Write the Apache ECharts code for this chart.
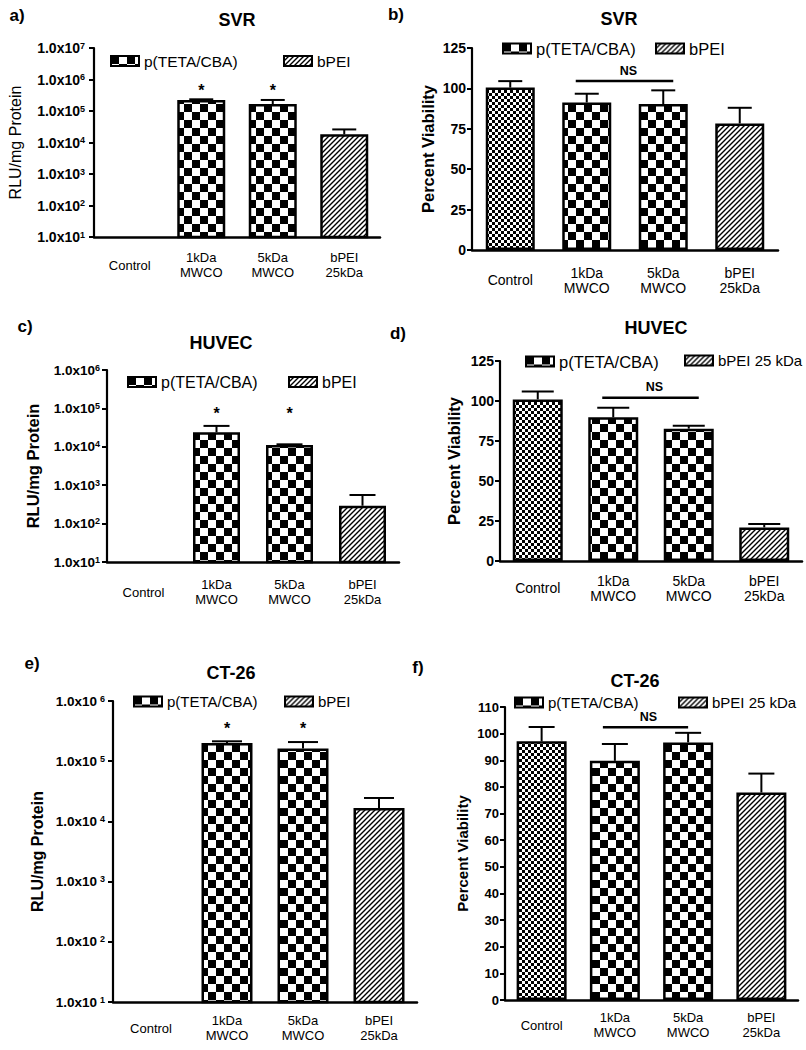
<!DOCTYPE html>
<html><head><meta charset="utf-8">
<script src="https://cdn.jsdelivr.net/npm/echarts@6/dist/echarts.min.js"></script>
<style>html,body{margin:0;padding:0;background:#fff}#c{width:806px;height:1050px}</style>
</head><body><div id="c"></div>
<script>
// ---------------- DATA ----------------
const categories = ['Control', '1kDa\nMWCO', '5kDa\nMWCO', 'bPEI\n25kDa'];
const seriesPoly = 'p(TETA/CBA)';
const seriesPEI = 'bPEI';
const seriesPEI25 = 'bPEI 25 kDa';
const seriesControl = 'Control';

// a) SVR transfection, RLU/mg protein (Control below axis)
const svrRluMean  = [null, 2.24e5, 1.67e5, 1.82e4];
const svrRluUpper = [null, 2.35e5, 2.24e5, 2.6e4];
const svrRluStarCats = [1, 2];
const svrRluStarLevel = 4.6e5;
// b) SVR viability, %
const svrViabMean  = [100.5, 91.3, 90.3, 78.3];
const svrViabUpper = [104.5, 96.7, 98.8, 88.0];
const svrViabNS = [1, 2, 104.6];
// c) HUVEC transfection
const huvecRluMean  = [null, 2.39e4, 1.11e4, 292];
const huvecRluUpper = [null, 3.5e4, 1.16e4, 556];
const huvecRluStarCats = [1, 2];
const huvecRluStarLevel = 7.4e4;
// d) HUVEC viability
const huvecViabMean  = [101.0, 89.8, 82.7, 21.0];
const huvecViabUpper = [106.0, 95.8, 84.6, 23.1];
const huvecViabNS = [1, 2, 102.0];
// e) CT-26 transfection
const ct26RluMean  = [null, 2.0e5, 1.62e5, 1.67e4];
const ct26RluUpper = [null, 2.14e5, 2.08e5, 2.45e4];
const ct26RluStarCats = [1, 2];
const ct26RluStarLevel = 3.5e5;
// f) CT-26 viability
const ct26ViabMean  = [97.1, 89.8, 96.7, 77.9];
const ct26ViabUpper = [102.5, 96.1, 100.3, 85.0];
const ct26ViabNS = [1, 2, 102.4];

// tick settings
const logMinA = 10, logMaxA = 1e7;
const logMinC = 10, logMaxC = 1e6;
const logMinE = 10, logMaxE = 1e6;
const viabTicksBD = {min: 0, max: 125, interval: 25};
const viabTicksF = {min: 0, max: 110, interval: 10};

// ---------------- STYLE / LAYOUT ----------------
const FONT = '"Liberation Sans", Arial, Helvetica, sans-serif';

function mkCanvas(w, h) { const c = document.createElement('canvas'); c.width = w; c.height = h; return c; }
function checker(cell) {
  const c = mkCanvas(cell * 2, cell * 2); const g = c.getContext('2d');
  g.fillStyle = '#fff'; g.fillRect(0, 0, cell * 2, cell * 2);
  g.fillStyle = '#000'; g.fillRect(0, 0, cell, cell); g.fillRect(cell, cell, cell, cell);
  return {image: c, repeat: 'repeat', imageWidth: cell * 2, imageHeight: cell * 2};
}
function hatch(sp) {
  const c = mkCanvas(sp, sp); const g = c.getContext('2d');
  g.fillStyle = '#fff'; g.fillRect(0, 0, sp, sp);
  g.strokeStyle = '#000'; g.lineWidth = 1.4;
  g.beginPath();
  g.moveTo(-1, sp + 1); g.lineTo(sp + 1, -1);
  g.moveTo(-1, 1); g.lineTo(1, -1);
  g.moveTo(sp - 1, sp + 1); g.lineTo(sp + 1, sp - 1);
  g.stroke();
  return {image: c, repeat: 'repeat', imageWidth: sp, imageHeight: sp};
}
const fillCoarse = checker(8);
const fillFine = checker(3);
const fillHatch = hatch(5);

const panels = [
  {label: 'a)', lx: 17, ly: 15, title: 'SVR', tx: 237, ty: 20,
   grid: {left: 94, top: 48, width: 286, height: 189},
   log: true, min: logMinA, max: logMaxA,
   mean: svrRluMean, upper: svrRluUpper, starCats: svrRluStarCats, starLevel: svrRluStarLevel,
   yName: 'RLU/mg Protein', yBold: false, nameGap: 71, nameSize: 16, tickSize: 14, labMargin: 9, supGap: 0,
   xSize: 13, xMargin: 28, barWidth: 48, cap: 12,
   pei: seriesPEI, leg: [[110, 53], [283, 53]], legSize: [15.5, 15.5]},
  {label: 'b)', lx: 396, ly: 14, title: 'SVR', tx: 619, ty: 19,
   grid: {left: 472, top: 48, width: 306, height: 202},
   log: false, ticks: viabTicksBD,
   mean: svrViabMean, upper: svrViabUpper, ns: svrViabNS, nsExt: [11, 10], nsDx: 4, nsDy: 10,
   yName: 'Percent Viability', yBold: true, nameGap: 36, nameSize: 16.5, tickSize: 14, labMargin: 6,
   xSize: 14, xMargin: 30, barWidth: 49, cap: 12,
   pei: seriesPEI, leg: [[502, 40], [655, 40]], legSize: [16.5, 16.5]},
  {label: 'c)', lx: 25, ly: 326, title: 'HUVEC', tx: 221, ty: 343,
   grid: {left: 107, top: 370, width: 292, height: 192},
   log: true, min: logMinC, max: logMaxC,
   mean: huvecRluMean, upper: huvecRluUpper, starCats: huvecRluStarCats, starLevel: huvecRluStarLevel,
   yName: 'RLU/mg Protein', yBold: true, nameGap: 66, nameSize: 16.5, tickSize: 13.5, labMargin: 7, supGap: 0,
   xSize: 13, xMargin: 30, barWidth: 47, cap: 13,
   pei: seriesPEI, leg: [[127, 374], [288, 374]], legSize: [16, 16]},
  {label: 'd)', lx: 398, ly: 333, title: 'HUVEC', tx: 656, ty: 328,
   grid: {left: 500, top: 361, width: 302, height: 200},
   log: false, ticks: viabTicksBD,
   mean: huvecViabMean, upper: huvecViabUpper, ns: huvecViabNS, nsExt: [11, 10], nsDx: 4, nsDy: 11,
   yName: 'Percent Viability', yBold: true, nameGap: 38, nameSize: 16.5, tickSize: 14, labMargin: 6,
   xSize: 14, xMargin: 27, barWidth: 50, cap: 16,
   pei: seriesPEI25, leg: [[525, 353], [684, 353]], legSize: [16.5, 15]},
  {label: 'e)', lx: 32, ly: 663, title: 'CT-26', tx: 231, ty: 673,
   grid: {left: 113, top: 701, width: 304, height: 301},
   log: true, min: logMinE, max: logMaxE,
   mean: ct26RluMean, upper: ct26RluUpper, starCats: ct26RluStarCats, starLevel: ct26RluStarLevel,
   yName: 'RLU/mg Protein', yBold: true, nameGap: 68, nameSize: 16, tickSize: 13.5, labMargin: 8, supGap: 3,
   xSize: 13, xMargin: 26, barWidth: 51, cap: 15,
   pei: seriesPEI, leg: [[133, 694], [284, 694]], legSize: [15, 15]},
  {label: 'f)', lx: 418, ly: 667, title: 'CT-26', tx: 635, ty: 681,
   grid: {left: 505, top: 707, width: 293, height: 293},
   log: false, ticks: viabTicksF,
   mean: ct26ViabMean, upper: ct26ViabUpper, ns: ct26ViabNS, nsExt: [12, 0], nsDx: 3, nsDy: 10,
   yName: 'Percent Viability', yBold: true, nameGap: 35, nameSize: 15, tickSize: 13, labMargin: 6,
   xSize: 13, xMargin: 25, barWidth: 50, cap: 13,
   pei: seriesPEI25, leg: [[514, 695], [678, 695]], legSize: [15, 15]}
];

const grids = [], xAxes = [], yAxes = [], series = [], legends = [], graphics = [];
const barStyleBase = {borderColor: '#000', borderWidth: 2.5};

panels.forEach((P, i) => {
  grids.push(Object.assign({containLabel: false}, P.grid));
  xAxes.push({
    type: 'category', gridIndex: i, data: categories, z: 6,
    axisLine: {show: true, lineStyle: {color: '#000', width: 2.5}},
    axisTick: {show: false},
    axisLabel: {interval: 0, color: '#000', fontFamily: FONT, fontSize: P.xSize, margin: P.xMargin,
                verticalAlign: 'middle', lineHeight: 15}
  });
  const y = {
    gridIndex: i, z: 6,
    name: P.yName, nameLocation: 'middle', nameGap: P.nameGap, nameRotate: 90,
    nameTextStyle: {color: '#000', fontFamily: FONT, fontSize: P.nameSize, fontWeight: P.yBold ? 'bold' : 'normal'},
    axisLine: {show: true, lineStyle: {color: '#000', width: 2.2}},
    axisTick: {show: true, length: 5, lineStyle: {color: '#000', width: 2}},
    splitLine: {show: false},
    axisLabel: {color: '#000', fontFamily: FONT, fontSize: P.tickSize, fontWeight: 'bold', margin: P.labMargin}
  };
  if (P.log) {
    Object.assign(y, {type: 'log', logBase: 10, min: P.min, max: P.max, interval: 1});
    y.axisLabel.formatter = v => '1.0x10{s|' + Math.round(Math.log10(v)) + '}';
    y.axisLabel.rich = {s: {fontSize: 9, fontWeight: 'bold', fontFamily: FONT, color: '#000',
                            verticalAlign: 'top', padding: [0, 0, 0, P.supGap]}};
  } else {
    Object.assign(y, {type: 'value'}, P.ticks);
  }
  yAxes.push(y);

  const base = {type: 'bar', xAxisIndex: i, yAxisIndex: i, barWidth: P.barWidth, barGap: '-100%', z: 2};
  if (P.mean[0] != null) {
    series.push(Object.assign({}, base, {name: seriesControl,
      data: P.mean.map((v, k) => k === 0 ? v : null),
      itemStyle: Object.assign({color: fillFine}, barStyleBase)}));
  }
  series.push(Object.assign({}, base, {name: seriesPoly,
    data: P.mean.map((v, k) => (k === 1 || k === 2) ? v : null),
    itemStyle: Object.assign({color: fillCoarse}, barStyleBase)}));
  series.push(Object.assign({}, base, {name: P.pei,
    data: P.mean.map((v, k) => k === 3 ? v : null),
    itemStyle: Object.assign({color: fillHatch}, barStyleBase)}));

  // error bars (upper only)
  const cap = P.cap;
  series.push({
    type: 'custom', name: 'err' + i, xAxisIndex: i, yAxisIndex: i, z: 4,
    encode: {x: 0, y: [1, 2]},
    data: P.mean.map((v, k) => v == null ? null : [k, v, P.upper[k]]).filter(d => d),
    renderItem: (params, api) => {
      const a = api.coord([api.value(0), api.value(1)]);
      const b = api.coord([api.value(0), api.value(2)]);
      const st = {stroke: '#000', lineWidth: 2};
      return {type: 'group', children: [
        {type: 'line', shape: {x1: a[0], y1: a[1], x2: a[0], y2: b[1]}, style: st},
        {type: 'line', shape: {x1: a[0] - cap, y1: b[1], x2: a[0] + cap, y2: b[1]}, style: st}
      ]};
    }
  });

  if (P.starCats) {
    series.push({
      type: 'custom', name: 'stars' + i, xAxisIndex: i, yAxisIndex: i, z: 5,
      encode: {x: 0, y: 1},
      data: P.starCats.map(k => [k, P.starLevel]),
      renderItem: (params, api) => {
        const c = api.coord([api.value(0), api.value(1)]);
        return {type: 'text', x: c[0], y: c[1],
          style: {text: '*', font: 'bold 16px ' + FONT, fill: '#000',
                  align: 'center', verticalAlign: 'middle', textAlign: 'center', textVerticalAlign: 'middle'}};
      }
    });
  }
  if (P.ns) {
    const e1 = P.nsExt[0], e2 = P.nsExt[1], dx = P.nsDx, dy = P.nsDy;
    series.push({
      type: 'custom', name: 'ns' + i, xAxisIndex: i, yAxisIndex: i, z: 5,
      encode: {x: [0, 1], y: 2},
      data: [P.ns],
      renderItem: (params, api) => {
        const l = api.coord([api.value(0), api.value(2)]);
        const r = api.coord([api.value(1), api.value(2)]);
        return {type: 'group', children: [
          {type: 'line', shape: {x1: l[0] - e1, y1: l[1], x2: r[0] + e2, y2: l[1]},
           style: {stroke: '#000', lineWidth: 2.5}},
          {type: 'text', x: (l[0] - e1 + r[0] + e2) / 2 + dx, y: l[1] - dy,
           style: {text: 'NS', font: 'bold 12.5px ' + FONT, fill: '#000',
                   align: 'center', verticalAlign: 'middle', textAlign: 'center', textVerticalAlign: 'middle'}}
        ]};
      }
    });
  }

  [seriesPoly, P.pei].forEach((nm, j) => {
    legends.push({
      data: [nm], left: P.leg[j][0], top: P.leg[j][1], icon: 'rect', itemWidth: 28, itemHeight: 10,
      padding: 0, itemGap: 0, selectedMode: false,
      itemStyle: {borderColor: '#000', borderWidth: 2},
      textStyle: {color: '#000', fontFamily: FONT, fontSize: P.legSize[j]}
    });
  });

  const tstyle = (txt, x, y, size) => ({type: 'text', x: x, y: y, silent: true,
    style: {text: txt, font: 'bold ' + size + 'px ' + FONT, fill: '#000',
            align: 'center', verticalAlign: 'middle', textAlign: 'center', textVerticalAlign: 'middle'}});
  graphics.push(tstyle(P.title, P.tx, P.ty, 18));
  graphics.push(tstyle(P.label, P.lx, P.ly, 17));
});

const chart = echarts.init(document.getElementById('c'), null, {renderer: 'svg', width: 806, height: 1050});
chart.setOption({
  animation: false,
  backgroundColor: '#fff',
  textStyle: {fontFamily: FONT},
  grid: grids, xAxis: xAxes, yAxis: yAxes, series: series, legend: legends, graphic: graphics
});
</script></body></html>
